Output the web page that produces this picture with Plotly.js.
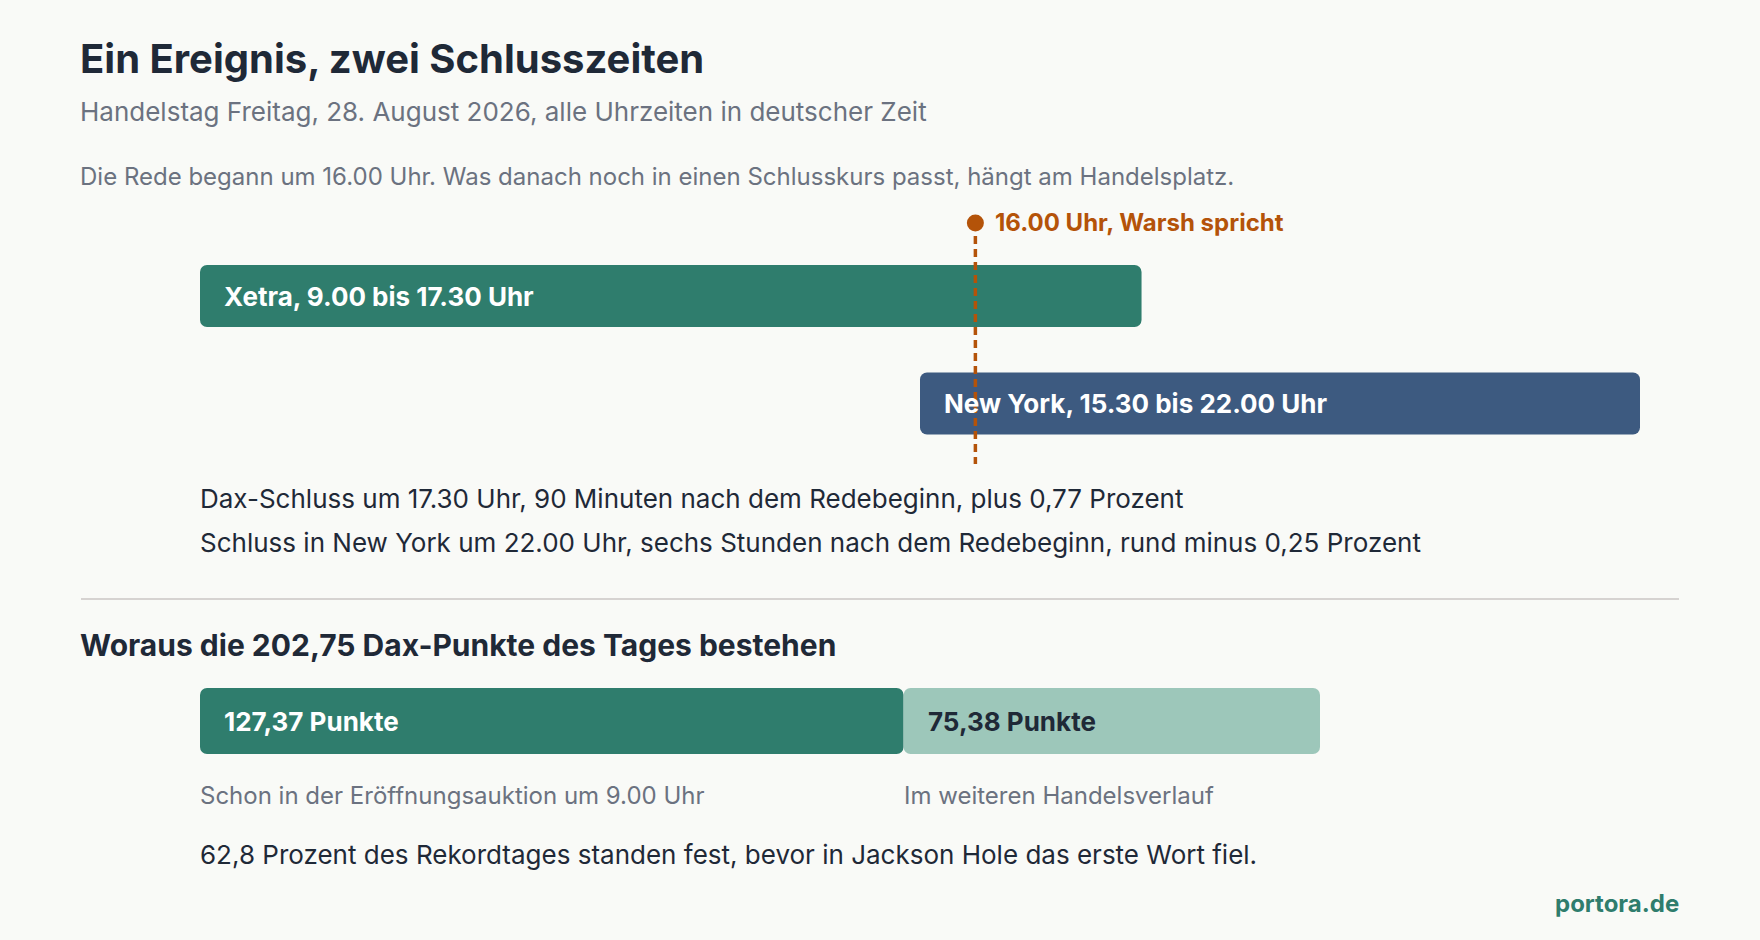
<!DOCTYPE html>
<html>
<head>
<meta charset="utf-8">
<script src="https://cdn.plot.ly/plotly-3.0.1.min.js"></script>
<style>
  html, body { margin: 0; padding: 0; background: #f9faf7; }
  #chart { width: 1760px; height: 940px; }
</style>
</head>
<body>
<div id="chart"></div>
<script>
// Trading hours (German time, decimal hours)
const venues = ["Xetra", "New York"];
const openTimes = [9.0, 15.5];
const closeTimes = [17.5, 22.0];
const venueLabels = ["Xetra, 9.00 bis 17.30 Uhr", "New York, 15.30 bis 22.00 Uhr"];
const speechTime = 16.0;
const speechLabel = "16.00 Uhr, Warsh spricht";
const closeNotes = [
  "Dax-Schluss um 17.30 Uhr, 90 Minuten nach dem Redebeginn, plus 0,77 Prozent",
  "Schluss in New York um 22.00 Uhr, sechs Stunden nach dem Redebeginn, rund minus 0,25 Prozent"
];

// Dax points of the day
const daxParts = [127.37, 75.38];
const daxPartLabels = ["127,37 Punkte", "75,38 Punkte"];
const daxPartNotes = ["Schon in der Eröffnungsauktion um 9.00 Uhr", "Im weiteren Handelsverlauf"];
const daxSummary = "62,8 Prozent des Rekordtages standen fest, bevor in Jackson Hole das erste Wort fiel.";

const W = 1760, H = 940;
const FONT = "Inter, 'Noto Sans', sans-serif";
const DARK = "#1f2937", GRAY = "#6b7280", GREEN = "#2f7d6d", BLUE = "#3d5a80",
      LIGHT = "#9dc7ba", ORANGE = "#b45309";

// pixel helpers
const px = x => x / W;
const py = y => 1 - y / H;
const rowOf = y => (y - 296) / 107.5;

const traces = [];
venues.forEach((v, i) => {
  traces.push({
    type: "bar", orientation: "h",
    x: [closeTimes[i] - openTimes[i]], y: [i], base: [openTimes[i]], width: 62 / 107.5,
    marker: { color: i === 0 ? GREEN : BLUE, line: { width: 0 } },
    hoverinfo: "skip", showlegend: false
  });
});

// speech marker
traces.push({
  type: "scatter", mode: "lines", x: [speechTime, speechTime], y: [rowOf(223), rowOf(464)],
  line: { color: ORANGE, width: 3.5, dash: "8px,5px" }, cliponaxis: false,
  hoverinfo: "skip", showlegend: false
});
traces.push({
  type: "scatter", mode: "markers", x: [speechTime], y: [rowOf(223)],
  marker: { color: ORANGE, size: 17 }, cliponaxis: false,
  hoverinfo: "skip", showlegend: false
});

// dax composition
let start = 0;
const daxStarts = [];
daxParts.forEach((p, i) => {
  daxStarts.push(start);
  traces.push({
    type: "bar", orientation: "h",
    x: [p], y: [0], base: [start], width: 1,
    xaxis: "x2", yaxis: "y2",
    marker: { color: i === 0 ? GREEN : LIGHT, line: { width: 0 } },
    hoverinfo: "skip", showlegend: false
  });
  start += p;
});
const daxTotal = start;

const ann = (o) => Object.assign({ showarrow: false, xanchor: "left", yanchor: "middle", align: "left" }, o);
const annotations = [
  ann({ xref: "paper", yref: "paper", x: px(78), y: py(58), text: "<b>Ein Ereignis, zwei Schlusszeiten</b>",
        font: { family: FONT, size: 40, color: DARK } }),
  ann({ xref: "paper", yref: "paper", x: px(78), y: py(111),
        text: "Handelstag Freitag, 28. August 2026, alle Uhrzeiten in deutscher Zeit",
        font: { family: FONT, size: 26, color: GRAY } }),
  ann({ xref: "paper", yref: "paper", x: px(78), y: py(176),
        text: "Die Rede begann um 16.00 Uhr. Was danach noch in einen Schlusskurs passt, hängt am Handelsplatz.",
        font: { family: FONT, size: 24, color: GRAY } }),
  ann({ xref: "x", yref: "paper", x: speechTime, xshift: 18, y: py(223), text: "<b>" + speechLabel + "</b>",
        font: { family: FONT, size: 24, color: ORANGE } }),
  ann({ xref: "paper", yref: "paper", x: px(78), y: py(645),
        text: "<b>Woraus die 202,75 Dax-Punkte des Tages bestehen</b>",
        font: { family: FONT, size: 30, color: DARK } }),
  ann({ xref: "x2", yref: "paper", x: 0, xshift: -2, y: py(854), text: daxSummary,
        font: { family: FONT, size: 26, color: DARK } }),
  ann({ xref: "paper", yref: "paper", x: px(1681), xanchor: "right", y: py(903), text: "<b>portora.de</b>",
        font: { family: FONT, size: 24, color: GREEN } })
];
venues.forEach((v, i) => {
  annotations.push(ann({ xref: "x", yref: "y", x: openTimes[i], xshift: 22, y: i, text: "<b>" + venueLabels[i] + "</b>",
                         font: { family: FONT, size: 26, color: "#ffffff" } }));
});
closeNotes.forEach((t, i) => {
  annotations.push(ann({ xref: "x", yref: "paper", x: openTimes[0], xshift: -2, y: py(498 + i * 44), text: t,
                         font: { family: FONT, size: 26, color: DARK } }));
});
daxParts.forEach((p, i) => {
  annotations.push(ann({ xref: "x2", yref: "y2", x: daxStarts[i], xshift: 22, y: 0, text: "<b>" + daxPartLabels[i] + "</b>",
                         font: { family: FONT, size: 26, color: i === 0 ? "#ffffff" : DARK } }));
  annotations.push(ann({ xref: "x2", yref: "paper", x: daxStarts[i], xshift: -2, y: py(795), text: daxPartNotes[i],
                         font: { family: FONT, size: 24, color: GRAY } }));
});

const hidden = { showgrid: false, zeroline: false, showticklabels: false, showline: false, ticks: "", fixedrange: true };

const layout = {
  width: W, height: H,
  margin: { l: 0, r: 0, t: 0, b: 0 },
  paper_bgcolor: "#f9faf7", plot_bgcolor: "rgba(0,0,0,0)",
  barmode: "overlay", barcornerradius: 7, showlegend: false,
  xaxis: Object.assign({}, hidden, { domain: [px(200), px(1640)], range: [openTimes[0], closeTimes[1]] }),
  yaxis: Object.assign({}, hidden, { domain: [py(470), py(200)], range: [rowOf(470), rowOf(200)] }),
  xaxis2: Object.assign({}, hidden, { domain: [px(200), px(1320)], range: [0, daxTotal], anchor: "y2" }),
  yaxis2: Object.assign({}, hidden, { domain: [py(754), py(688)], range: [-0.5, 0.5], anchor: "x2" }),
  shapes: [
    { type: "line", xref: "paper", yref: "paper", x0: px(81), x1: px(1679), y0: py(599), y1: py(599),
      line: { color: "#d6d3d1", width: 2 } }
  ],
  annotations: annotations
};

Plotly.newPlot("chart", traces, layout, { staticPlot: true, displayModeBar: false });
</script>
</body>
</html>
